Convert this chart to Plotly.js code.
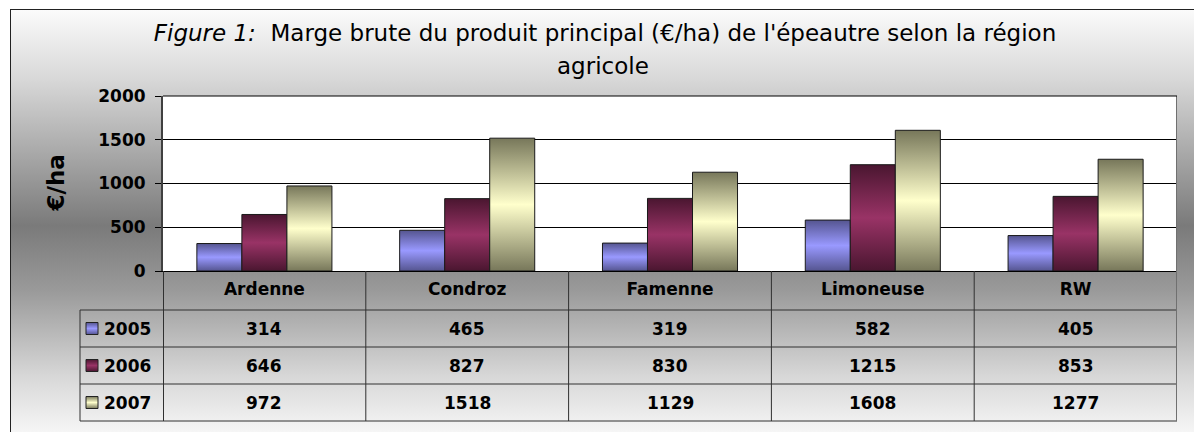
<!DOCTYPE html>
<html>
<head>
<meta charset="utf-8">
<script src="https://cdn.plot.ly/plotly-3.0.1.min.js"></script>
<style>
  html, body { margin:0; padding:0; background:#ffffff; }
  #wrap { position:relative; width:1194px; height:432px; overflow:hidden; background:#ffffff; }
  #frame { position:absolute; left:10px; top:9px; width:1200px; height:432px;
           border-left:1px solid #222; border-top:1px solid #222;
           background:linear-gradient(to bottom, #fbfbfb 0%, #d8d8d8 16%, #7a7a7a 50%, #9a9a9a 65%, #d8d8d8 85%, #fbfbfb 100%); }
  #chart { position:absolute; left:0; top:0; width:1194px; height:432px; }
</style>
</head>
<body>
<div id="wrap">
  <div id="frame"></div>
  <div id="chart"></div>
</div>
<script>
// ---- data ----
const categories = ['Ardenne', 'Condroz', 'Famenne', 'Limoneuse', 'RW'];
const years = ['2005', '2006', '2007'];
const v2005 = [314, 465, 319, 582, 405];
const v2006 = [646, 827, 830, 1215, 853];
const v2007 = [972, 1518, 1129, 1608, 1277];
const yTickVals = [0, 500, 1000, 1500, 2000];
const yTickText = ['0', '500', '1000', '1500', '2000'];
const titleLine1 = '<i>Figure 1:</i>  Marge brute du produit principal (€/ha) de l\'épeautre selon la région';
const titleLine2 = 'agricole';
const yTitle = '€/ha';

// ---- styles ----
const FONT = 'DejaVu Sans, Verdana, sans-serif';
const seriesVals = [v2005, v2006, v2007];
const midColors = ['#9999ff', '#993366', '#ffffcc'];
const edgeColors = ['#555590', '#4a1630', '#77775a'];

const W = 1194, H = 432;
const PL = 163, PR = 1177, PT = 96, PB = 271;
const PW = PR - PL, PH = PB - PT;
const px = x => (x - PL) / PW;          // pixel x -> paper x
const py = y => (PB - y) / PH;          // pixel y -> paper y

const rowBounds = [310, 347, 384, 421];
const rowCenters = [328.5, 365.5, 402.5];
const tableLeft = 80;
const BOLD = { family: FONT, size: 17, color: '#000', weight: 'bold' };

const traces = seriesVals.map((vals, k) => ({
  type: 'bar',
  name: years[k],
  x: categories,
  y: vals,
  marker: { color: midColors[k], line: { color: '#1a1a1a', width: 1 } },
  showlegend: false,
  hoverinfo: 'skip'
}));

const shapes = [];
const lineCol = '#303030';
rowBounds.forEach(yy => shapes.push({
  type: 'line', xref: 'paper', yref: 'paper',
  x0: px(tableLeft), x1: 1, y0: py(yy), y1: py(yy),
  line: { color: lineCol, width: 1 }
}));
shapes.push({ type: 'line', xref: 'paper', yref: 'paper',
  x0: px(tableLeft), x1: px(tableLeft), y0: py(rowBounds[0]), y1: py(rowBounds[3]),
  line: { color: lineCol, width: 1 } });
for (let i = 0; i <= categories.length; i++) {
  const last = i === categories.length;
  shapes.push({ type: 'line', xref: 'x', yref: 'paper',
    x0: i - 0.5, x1: i - 0.5,
    y0: last ? 1 : 0, y1: py(rowBounds[3]),
    line: { color: last ? '#707070' : lineCol, width: (i === 0 || last) ? 2 : 1 } });
}
shapes.push({ type: 'line', xref: 'paper', yref: 'paper', x0: 0, x1: 1, y0: 1, y1: 1,
  line: { color: '#000', width: 1 } });
const swatchIdx = [];
years.forEach((yr, k) => {
  swatchIdx.push(shapes.length);
  shapes.push({ type: 'rect', xref: 'paper', yref: 'paper',
    x0: px(86), x1: px(98), y0: py(rowCenters[k] + 6), y1: py(rowCenters[k] - 6),
    fillcolor: midColors[k], line: { color: '#222', width: 1 } });
});

const annotations = [];
seriesVals.forEach((vals, k) => {
  vals.forEach((v, i) => annotations.push({
    xref: 'x', yref: 'paper', x: categories[i], y: py(rowCenters[k]),
    text: String(v), showarrow: false, xanchor: 'center', yanchor: 'middle',
    font: BOLD
  }));
  annotations.push({
    xref: 'paper', yref: 'paper', x: px(102), y: py(rowCenters[k]),
    text: years[k], showarrow: false, xanchor: 'left', yanchor: 'middle',
    font: BOLD
  });
});
annotations.push({
  xref: 'paper', yref: 'paper', x: px(603), y: py(66),
  text: titleLine2, showarrow: false, xanchor: 'center', yanchor: 'middle',
  font: { family: FONT, size: 23, color: '#000' }
});
annotations.push({
  xref: 'paper', yref: 'paper', x: px(55), y: 0.5,
  text: yTitle, showarrow: false, textangle: -90, xanchor: 'center', yanchor: 'middle',
  font: { family: FONT, size: 23, color: '#000', weight: 'bold' }
});

const layout = {
  width: W, height: H,
  margin: { l: PL, r: W - PR, t: PT, b: H - PB, pad: 0 },
  paper_bgcolor: 'rgba(0,0,0,0)',
  plot_bgcolor: '#ffffff',
  title: { text: titleLine1, x: 605 / W, xanchor: 'center', y: 1 - 33 / H, yanchor: 'middle',
           font: { family: FONT, size: 23, color: '#000' } },
  barmode: 'group', bargap: 0.334, bargroupgap: 0,
  xaxis: { type: 'category', range: [-0.5, categories.length - 0.5], fixedrange: true,
           showgrid: false, zeroline: false, showline: true, linecolor: '#000', linewidth: 1,
           ticks: '', ticklabelstandoff: 3,
           tickfont: BOLD },
  yaxis: { range: [0, 2000], tickvals: yTickVals, ticktext: yTickText, fixedrange: true,
           ticks: 'outside', ticklen: 6, tickcolor: '#000', tickwidth: 1,
           ticklabelstandoff: 6,
           showgrid: true, gridcolor: '#000', gridwidth: 1, zeroline: false,
           showline: true, linecolor: '#404040', linewidth: 2,
           tickfont: BOLD },
  shapes: shapes,
  annotations: annotations,
  hovermode: false
};

Plotly.newPlot('chart', traces, layout, { staticPlot: true, displayModeBar: false }).then(gd => {
  const svg = gd.querySelector('.main-svg');
  const NS = 'http://www.w3.org/2000/svg';
  let defs = svg.querySelector('defs');
  if (!defs) { defs = document.createElementNS(NS, 'defs'); svg.insertBefore(defs, svg.firstChild); }
  midColors.forEach((mc, k) => {
    const g = document.createElementNS(NS, 'linearGradient');
    g.setAttribute('id', 'bargrad' + k);
    g.setAttribute('x1', '0'); g.setAttribute('y1', '0');
    g.setAttribute('x2', '0'); g.setAttribute('y2', '1');
    [[0, edgeColors[k]], [0.5, mc], [1, edgeColors[k]]].forEach(([o, c]) => {
      const s = document.createElementNS(NS, 'stop');
      s.setAttribute('offset', o); s.setAttribute('stop-color', c);
      g.appendChild(s);
    });
    defs.appendChild(g);
  });
  gd.querySelectorAll('.barlayer .trace').forEach((tr, k) => {
    tr.querySelectorAll('.point path').forEach(p => { p.style.fill = 'url(#bargrad' + k + ')'; });
  });
  swatchIdx.forEach((idx, k) => {
    gd.querySelectorAll('.shapelayer path[data-index="' + idx + '"]').forEach(p => {
      p.style.fill = 'url(#bargrad' + k + ')'; p.style.fillOpacity = 1;
    });
  });
});
</script>
</body>
</html>
